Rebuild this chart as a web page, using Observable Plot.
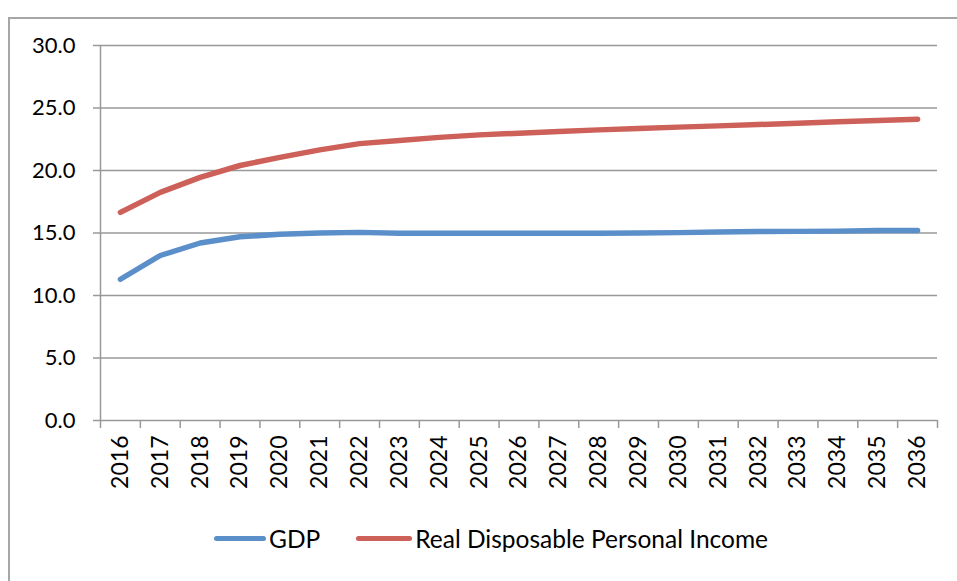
<!DOCTYPE html>
<html><head><meta charset="utf-8">
<script src="https://cdn.jsdelivr.net/npm/d3@7"></script>
<script src="https://cdn.jsdelivr.net/npm/@observablehq/plot@0.6"></script>
<style>
body{margin:0;background:#fff;font-family:Lato,"Open Sans",sans-serif;}
#wrap{position:relative;width:957px;height:581px;overflow:hidden;background:#fff;}
#frame{position:absolute;left:8px;top:17px;width:1200px;height:1200px;border:2px solid #a6a6a6;}
#chart{position:absolute;left:0;top:0;}
#legend{position:absolute;left:214px;top:524px;display:flex;align-items:center;font-size:24.5px;color:#000;white-space:nowrap;}
.sw{display:inline-block;height:5px;border-radius:3px;margin-right:3px;}
</style></head>
<body>
<div id="wrap"><div id="frame"></div><div id="chart"></div><div id="legend"></div></div>
<script>
const years = [2016,2017,2018,2019,2020,2021,2022,2023,2024,2025,2026,2027,2028,2029,2030,2031,2032,2033,2034,2035,2036];
const gdp = [11.3,13.2,14.2,14.7,14.9,15.0,15.05,14.98,14.98,14.98,14.98,14.98,14.98,15.0,15.03,15.08,15.12,15.13,15.15,15.2,15.2];
const rdpi = [16.65,18.25,19.45,20.4,21.05,21.65,22.15,22.4,22.65,22.85,22.98,23.12,23.25,23.36,23.47,23.57,23.68,23.78,23.9,24.0,24.1];
const seriesNames = ["GDP","Real Disposable Personal Income"];
const seriesColors = ["#5B8FC9","#CD6058"];
const yTicks = [0,5,10,15,20,25,30];

const data = years.flatMap((yr,i)=>[
  {year:yr, value:gdp[i], series:seriesNames[0]},
  {year:yr, value:rdpi[i], series:seriesNames[1]}
]);
const bounds = years.map(y=>y-0.5).concat([years[years.length-1]+0.5]);

const chart = Plot.plot({
  width:957, height:500,
  marginLeft:100, marginRight:20, marginTop:45, marginBottom:80,
  x:{domain:[bounds[0], bounds[bounds.length-1]]},
  y:{domain:[0,30]},
  color:{domain:seriesNames, range:seriesColors},
  style:{fontFamily:"Lato, 'Open Sans', sans-serif", fontSize:"22px", color:"#000", background:"transparent"},
  marks:[
    Plot.ruleY(yTicks,{stroke:"#999", strokeWidth:1.5}),
    Plot.ruleX([bounds[0]],{stroke:"#999", strokeWidth:1.5}),
    Plot.axisY({ticks:yTicks, tickFormat:d=>d.toFixed(1), tickSize:7, tickPadding:18, stroke:"#999", strokeWidth:1.5, strokeOpacity:1, fontSize:22, label:null}),
    Plot.axisX({ticks:bounds, tickFormat:()=>"", tickSize:8, stroke:"#999", strokeWidth:1.5, strokeOpacity:1, label:null}),
    Plot.axisX({ticks:years, tickFormat:d=>String(d), tickSize:0, tickPadding:15, tickRotate:-90, fontSize:23, label:null}),
    Plot.line(data,{x:"year", y:"value", z:"series", stroke:"series", strokeWidth:5.5, strokeLinecap:"round", strokeLinejoin:"round"})
  ]
});
document.getElementById("chart").appendChild(chart);

const legend = document.getElementById("legend");
seriesNames.forEach((name,i)=>{
  const item = document.createElement("span");
  item.style.display="inline-flex"; item.style.alignItems="center";
  if(i>0) item.style.marginLeft="36px";
  const sw = document.createElement("span");
  sw.className="sw"; sw.style.background=seriesColors[i]; sw.style.width=(i===0?52:56)+"px";
  const t = document.createElement("span"); t.textContent=name;
  item.appendChild(sw); item.appendChild(t); legend.appendChild(item);
});
</script>
</body></html>
